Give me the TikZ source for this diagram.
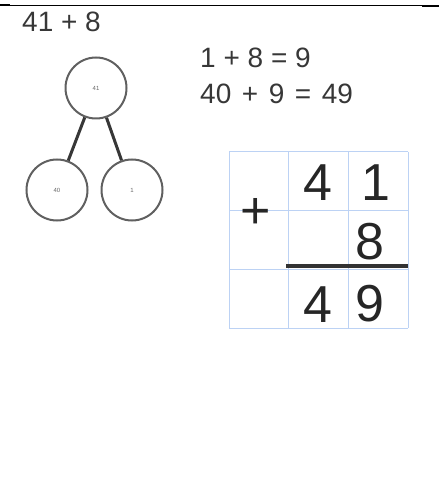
\documentclass[tikz,border=0pt]{standalone}
\usepackage{fontspec}
\setmainfont{Liberation Sans}
\usetikzlibrary{positioning}
\definecolor{gridblue}{RGB}{188,210,244}
\definecolor{inkgray}{RGB}{55,55,55}
\newcommand{\eqgap}{\hspace{2.8pt}}

\begin{document}
\begin{tikzpicture}[x=1pt, y=-1pt,
                node distance=6pt,
                sum/.style={anchor=base west, inner sep=0pt, font=\fontsize{28}{30}\selectfont, text=inkgray},
                bubble/.style={circle, draw=gray!75!black, line width=2pt, minimum size=61pt,
                               inner sep=0pt, font=\fontsize{6}{7}\selectfont, text=gray!80!black},
                hand/.style={inner sep=0pt, font=\fontsize{52}{60}\selectfont, text=black!85}
            ]
            \useasboundingbox (0,0) rectangle (439,478);
            \draw[line width=0.6pt] (0,5) -- (439,5);
            \draw[line width=2pt] (0,5.5) -- (10,5.5);
            \draw[line width=2.4pt] (422,6) -- (439,6);
            \node[sum] (task) at (22,32) {41 + 8};
            \node[bubble] (n41) at (96,88) {41};
            \node[bubble] (n40) at (57,190) {40};
            \node[bubble] (n1)  at (132,190) {1};
            \draw[line width=3pt, inkgray] (n41) -- (n40);
            \draw[line width=3pt, inkgray] (n41) -- (n1);
            \node[sum] (eqa) at (200,68) {1 + 8 = 9};
            \node[sum] (eqb) at (200,104) {40\eqgap{} + \eqgap{}9\eqgap{} = \eqgap{}49};
            \foreach \x in {229,288.5,348,408}
                \draw[gridblue, line width=1pt] (\x,152) -- (\x,328);
            \foreach \y in {152,210.5,269,328}
                \draw[gridblue, line width=1pt] (229,\y) -- (408,\y);
            \draw[line width=3.4pt, black!80] (286,266) -- (408,266);
            \node[hand] (d4) at (318,183) {4};
            \node[hand] (d1) at (376,183) {1};
            \node[hand] (plus) at (256,213) {+};
            \node[hand] (d8) at (370,242) {8};
            \node[hand] (r4) at (318,305) {4};
            \node[hand] (r9) at (370,304) {9};
\end{tikzpicture}
\end{document}
